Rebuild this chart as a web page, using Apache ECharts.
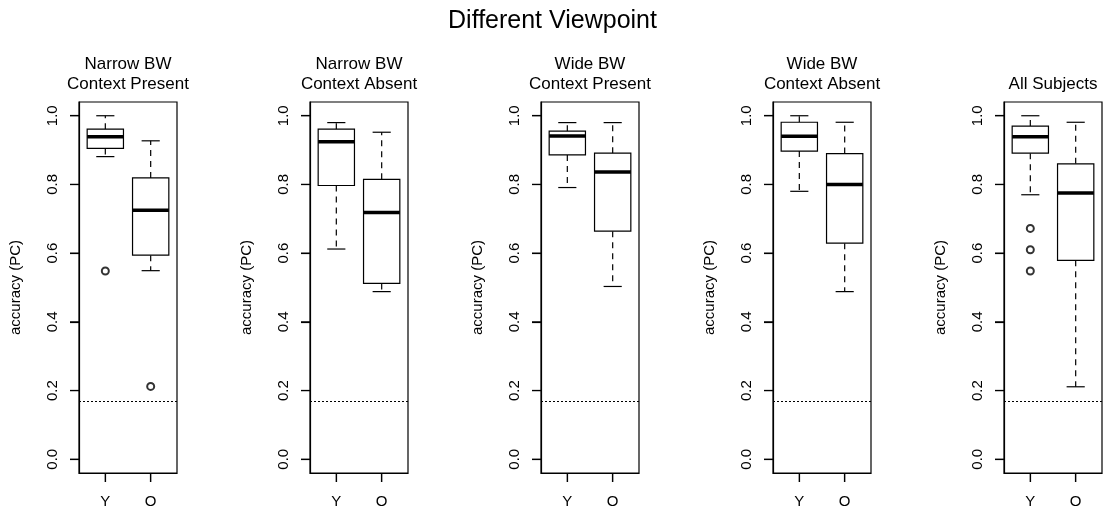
<!DOCTYPE html>
<html>
<head>
<meta charset="utf-8">
<script src="https://cdn.jsdelivr.net/npm/echarts@6.0.0/dist/echarts.min.js"></script>
<style>
html,body{margin:0;padding:0;background:#fff;}
#chart{width:1105px;height:512px;}
</style>
</head>
<body>
<div id="chart"></div>
<script>
// ---------------- data ----------------
const mainTitle = 'Different Viewpoint';
const groups = ['Y', 'O'];
const panelTitles = ['Narrow BW\nContext Present', 'Narrow BW\nContext Absent', 'Wide BW\nContext Present', 'Wide BW\nContext Absent', 'All Subjects'];
const yTicks = [0, 0.2, 0.4, 0.6, 0.8, 1.0];
const xTicks = [1, 2];
const yName = 'accuracy (PC)';
const chanceLevel = 1 / 6;

// box stats per group: [lower whisker, Q1, median, Q3, upper whisker]
const boxNarrowPresent = [[0.881, 0.905, 0.939, 0.961, 1.000], [0.549, 0.594, 0.725, 0.819, 0.927]];
const outNarrowPresent = [[0, 0.548], [1, 0.212]];
const boxNarrowAbsent = [[0.612, 0.797, 0.924, 0.961, 0.980], [0.488, 0.512, 0.718, 0.815, 0.952]];
const outNarrowAbsent = [];
const boxWidePresent = [[0.791, 0.886, 0.941, 0.955, 0.980], [0.503, 0.664, 0.836, 0.891, 0.980]];
const outWidePresent = [];
const boxWideAbsent = [[0.780, 0.897, 0.940, 0.981, 1.000], [0.488, 0.629, 0.800, 0.890, 0.981]];
const outWideAbsent = [];
const boxAll = [[0.770, 0.891, 0.939, 0.970, 1.000], [0.211, 0.579, 0.775, 0.860, 0.981]];
const outAll = [[0, 0.672], [0, 0.610], [0, 0.548]];

const panelBoxes = [boxNarrowPresent, boxNarrowAbsent, boxWidePresent, boxWideAbsent, boxAll];
const panelOutliers = [outNarrowPresent, outNarrowAbsent, outWidePresent, outWideAbsent, outAll];

// ---------------- layout / style ----------------
const FONT = '"Liberation Sans", Arial, Helvetica, sans-serif';
const frameLefts = [79, 310, 541, 773, 1004];
const frameW = 98, frameTop = 102, frameH = 371;
const LW = 1.2;
const TICK_LEN = 9;

function renderBox(params, api) {
  const x = api.value(0);
  const lo = api.value(1), q1 = api.value(2), md = api.value(3), q3 = api.value(4), hi = api.value(5);
  const hw = 0.4, sw = 0.2;
  const P = (xx, yy) => api.coord([xx, yy]);
  const cx = P(x, 0)[0];
  const yLo = P(x, lo)[1], yQ1 = P(x, q1)[1], yMd = P(x, md)[1], yQ3 = P(x, q3)[1], yHi = P(x, hi)[1];
  const xl = P(x - hw, 0)[0], xr = P(x + hw, 0)[0];
  const sl = P(x - sw, 0)[0], sr = P(x + sw, 0)[0];
  const solid = {stroke: '#000', lineWidth: LW, fill: null};
  const dashed = {stroke: '#000', lineWidth: LW, fill: null, lineDash: [6, 5]};
  return {
    type: 'group',
    children: [
      {type: 'line', shape: {x1: cx, y1: yQ3, x2: cx, y2: yHi}, style: dashed},
      {type: 'line', shape: {x1: cx, y1: yQ1, x2: cx, y2: yLo}, style: dashed},
      {type: 'line', shape: {x1: sl, y1: yHi, x2: sr, y2: yHi}, style: solid},
      {type: 'line', shape: {x1: sl, y1: yLo, x2: sr, y2: yLo}, style: solid},
      {type: 'rect', shape: {x: xl, y: yQ3, width: xr - xl, height: yQ1 - yQ3}, style: {stroke: '#000', lineWidth: LW, fill: '#fff'}},
      {type: 'line', shape: {x1: xl, y1: yMd, x2: xr, y2: yMd}, style: {stroke: '#000', lineWidth: 3.5}}
    ]
  };
}

// axis tick marks placed through the axes' own scales (item: [axisFlag, value])
function renderTick(params, api) {
  const cs = params.coordSys;
  const flag = api.value(0), v = api.value(1);
  const style = {stroke: '#000', lineWidth: LW};
  if (flag === 0) {
    const y = api.coord([1, v])[1];
    return {type: 'line', shape: {x1: cs.x - TICK_LEN, y1: y, x2: cs.x, y2: y}, style: style};
  }
  const x = api.coord([v, 0])[0];
  const yb = cs.y + cs.height;
  return {type: 'line', shape: {x1: x, y1: yb, x2: x, y2: yb + TICK_LEN}, style: style};
}

const grids = [], xAxes = [], yAxes = [], series = [];
const titles = [{
  text: mainTitle, left: 'center', top: 7, padding: 0,
  textStyle: {fontSize: 25, fontWeight: 'normal', color: '#000', fontFamily: FONT, lineHeight: 29}
}];

panelTitles.forEach((t, i) => {
  const left = frameLefts[i];
  const lines = t.split('\n').length;
  titles.push({
    text: t, left: left + frameW / 2, textAlign: 'center', top: lines === 2 ? 54 : 74, padding: 0,
    textStyle: {fontSize: 17, fontWeight: 'normal', color: '#000', fontFamily: FONT, lineHeight: 20}
  });
  grids.push({
    left: left, top: frameTop, width: frameW, height: frameH,
    show: true, borderColor: '#000', borderWidth: LW
  });
  xAxes.push({
    type: 'value', gridIndex: i, min: 0.42, max: 2.58,
    axisLine: {show: true, onZero: false, lineStyle: {color: '#000', width: LW}},
    splitLine: {show: false},
    axisTick: {show: true, customValues: xTicks, length: TICK_LEN, lineStyle: {color: '#000', width: LW}},
    axisLabel: {
      show: true, customValues: xTicks, margin: 21,
      formatter: v => groups[Math.round(v) - 1],
      fontSize: 15, color: '#000', fontFamily: FONT
    }
  });
  yAxes.push({
    type: 'value', gridIndex: i, min: -0.04, max: 1.04,
    name: yName, nameLocation: 'middle', nameGap: 56, nameRotate: 90,
    nameTextStyle: {fontSize: 15, color: '#000', fontFamily: FONT},
    axisLine: {show: true, onZero: false, lineStyle: {color: '#000', width: LW}},
    splitLine: {show: false},
    axisTick: {show: true, customValues: yTicks, length: TICK_LEN, lineStyle: {color: '#000', width: LW}},
    axisLabel: {
      show: true, customValues: yTicks, rotate: 90, margin: 19,
      formatter: v => v.toFixed(1),
      fontSize: 15, color: '#000', fontFamily: FONT
    }
  });
  series.push({
    type: 'custom', xAxisIndex: i, yAxisIndex: i,
    renderItem: renderBox,
    encode: {x: 0, y: [1, 2, 3, 4, 5]},
    data: panelBoxes[i].map((b, g) => [g + 1].concat(b)),
    silent: true, z: 2,
    markLine: {
      silent: true, symbol: 'none', animation: false,
      label: {show: false},
      lineStyle: {color: '#000', width: 1, type: [2, 2]},
      data: [{yAxis: chanceLevel}]
    }
  });
  series.push({
    type: 'custom', xAxisIndex: i, yAxisIndex: i,
    renderItem: renderTick, clip: false, silent: true, z: 4,
    encode: {x: -1, y: -1},
    data: yTicks.map(v => [0, v]).concat(xTicks.map(v => [1, v]))
  });
  series.push({
    type: 'scatter', xAxisIndex: i, yAxisIndex: i,
    symbol: 'emptyCircle', symbolSize: 7,
    itemStyle: {color: '#000', borderColor: '#000', borderWidth: 1},
    data: panelOutliers[i].map(([g, v]) => [g + 1, v]),
    silent: true, z: 3
  });
});

const chart = echarts.init(document.getElementById('chart'));
chart.setOption({
  animation: false,
  backgroundColor: '#fff',
  title: titles,
  grid: grids,
  xAxis: xAxes,
  yAxis: yAxes,
  series: series
});
</script>
</body>
</html>
